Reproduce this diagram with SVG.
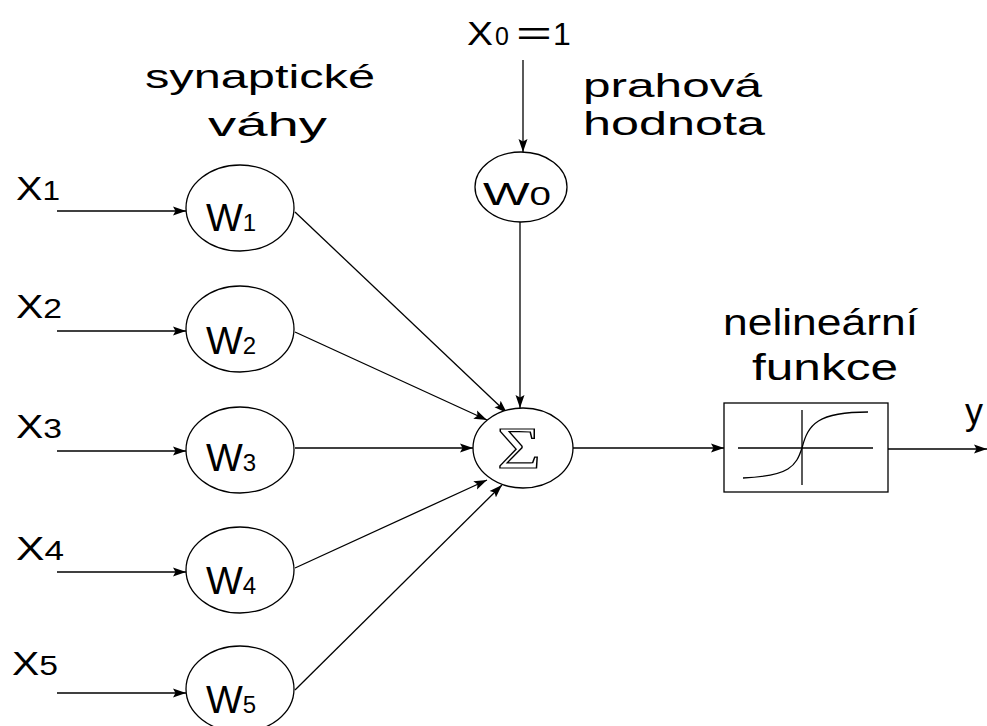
<svg xmlns="http://www.w3.org/2000/svg" width="987" height="726" viewBox="0 0 987 726">
<style>
.n{fill:#fff;stroke:#000;stroke-width:1.3}
.c{fill:none;stroke:#000;stroke-width:1.3}
.t{font-family:"Liberation Sans",Arial,sans-serif;fill:#000}
.l{font-family:"Liberation Sans",Arial,sans-serif;fill:#000}
</style>
<defs>
<marker id="a" markerUnits="userSpaceOnUse" markerWidth="14" markerHeight="10" refX="13" refY="5" orient="auto">
<path d="M0,0.5 L13,5 L0,9.5 L2.5,5 Z" fill="#000"/>
</marker>
</defs>
<rect width="987" height="726" fill="#fff"/>
<g id="connectors" class="c">
<line x1="57" y1="211" x2="186" y2="211" marker-end="url(#a)"/>
<line x1="57" y1="331" x2="186" y2="331" marker-end="url(#a)"/>
<line x1="57" y1="451" x2="186" y2="451" marker-end="url(#a)"/>
<line x1="57" y1="572" x2="186" y2="572" marker-end="url(#a)"/>
<line x1="57" y1="693" x2="186" y2="693" marker-end="url(#a)"/>
<line x1="523" y1="60" x2="523" y2="152" marker-end="url(#a)"/>
<line x1="520" y1="222" x2="520" y2="408" marker-end="url(#a)"/>
<line x1="295" y1="212" x2="507" y2="413" marker-end="url(#a)"/>
<line x1="295" y1="332" x2="487" y2="420" marker-end="url(#a)"/>
<line x1="295" y1="448" x2="473" y2="448" marker-end="url(#a)"/>
<line x1="295" y1="568" x2="487" y2="480" marker-end="url(#a)"/>
<line x1="295" y1="690" x2="502" y2="485" marker-end="url(#a)"/>
<line x1="573" y1="448" x2="724" y2="448" marker-end="url(#a)"/>
<line x1="888" y1="449" x2="987" y2="449" marker-end="url(#a)"/>
</g>
<g id="x1"><text class="l" x="16" y="200" font-size="34" textLength="44" lengthAdjust="spacingAndGlyphs">X<tspan font-size="27">1</tspan></text></g>
<g id="x2"><text class="l" x="16" y="318" font-size="34" textLength="46" lengthAdjust="spacingAndGlyphs">X<tspan font-size="28">2</tspan></text></g>
<g id="x3"><text class="l" x="16" y="438" font-size="34" textLength="46" lengthAdjust="spacingAndGlyphs">X<tspan font-size="28">3</tspan></text></g>
<g id="x4"><text class="l" x="16" y="560" font-size="34" textLength="48" lengthAdjust="spacingAndGlyphs">X<tspan font-size="28">4</tspan></text></g>
<g id="x5"><text class="l" x="12" y="675" font-size="34" textLength="46" lengthAdjust="spacingAndGlyphs">X<tspan font-size="28">5</tspan></text></g>
<g id="w1"><ellipse class="n" cx="240" cy="208" rx="54" ry="43"/><text class="l" x="206" y="231" font-size="39">W<tspan font-size="24">1</tspan></text></g>
<g id="w2"><ellipse class="n" cx="240" cy="329" rx="54" ry="43"/><text class="l" x="206" y="354" font-size="39">W<tspan font-size="24">2</tspan></text></g>
<g id="w3"><ellipse class="n" cx="240" cy="450" rx="54" ry="43"/><text class="l" x="206" y="471" font-size="39">W<tspan font-size="24">3</tspan></text></g>
<g id="w4"><ellipse class="n" cx="240" cy="570" rx="54" ry="43"/><text class="l" x="206" y="594" font-size="39">W<tspan font-size="24">4</tspan></text></g>
<g id="w5"><ellipse class="n" cx="240" cy="689" rx="54" ry="43"/><text class="l" x="206" y="713" font-size="39">W<tspan font-size="24">5</tspan></text></g>
<g id="x0"><text class="l" x="467" y="45" font-size="33" textLength="26" lengthAdjust="spacingAndGlyphs">X</text><text class="l" x="495" y="45" font-size="25">0</text><text class="l" x="516" y="45" font-size="34" textLength="36" lengthAdjust="spacingAndGlyphs">=</text><text class="l" x="553" y="45" font-size="32">1</text></g>
<g id="w0"><ellipse class="n" cx="521" cy="187" rx="46" ry="35"/><text class="l" x="483" y="205" font-size="32" textLength="68" lengthAdjust="spacingAndGlyphs">W<tspan font-size="25">0</tspan></text></g>
<g id="sum"><ellipse class="n" cx="523" cy="448" rx="50" ry="40"/><text x="497" y="468" font-family="'Liberation Serif','DejaVu Serif',serif" font-size="60" fill="#fff" stroke="#000" stroke-width="1.2" textLength="44" lengthAdjust="spacingAndGlyphs">Σ</text></g>
<g id="f"><rect class="n" x="724" y="403" width="164" height="89"/><line class="c" x1="738" y1="448" x2="873" y2="448"/><line class="c" x1="802" y1="410" x2="802" y2="485"/><path class="c" d="M743,478 C790,476 796,466 802,448 C808,424 818,412 868,412"/></g>
<g id="labels">
<text class="t" x="145" y="88" font-size="33" textLength="230" lengthAdjust="spacingAndGlyphs">synaptické</text>
<text class="t" x="208" y="136" font-size="33" textLength="119" lengthAdjust="spacingAndGlyphs">váhy</text>
<text class="t" x="583" y="97" font-size="34" textLength="179" lengthAdjust="spacingAndGlyphs">prahová</text>
<text class="t" x="583" y="135" font-size="34" textLength="182" lengthAdjust="spacingAndGlyphs">hodnota</text>
<text class="t" x="723" y="335" font-size="37" textLength="195" lengthAdjust="spacingAndGlyphs">nelineární</text>
<text class="t" x="752" y="380" font-size="37" textLength="146" lengthAdjust="spacingAndGlyphs">funkce</text>
<text class="t" x="965" y="424" font-size="36">y</text>
</g>
</svg>
